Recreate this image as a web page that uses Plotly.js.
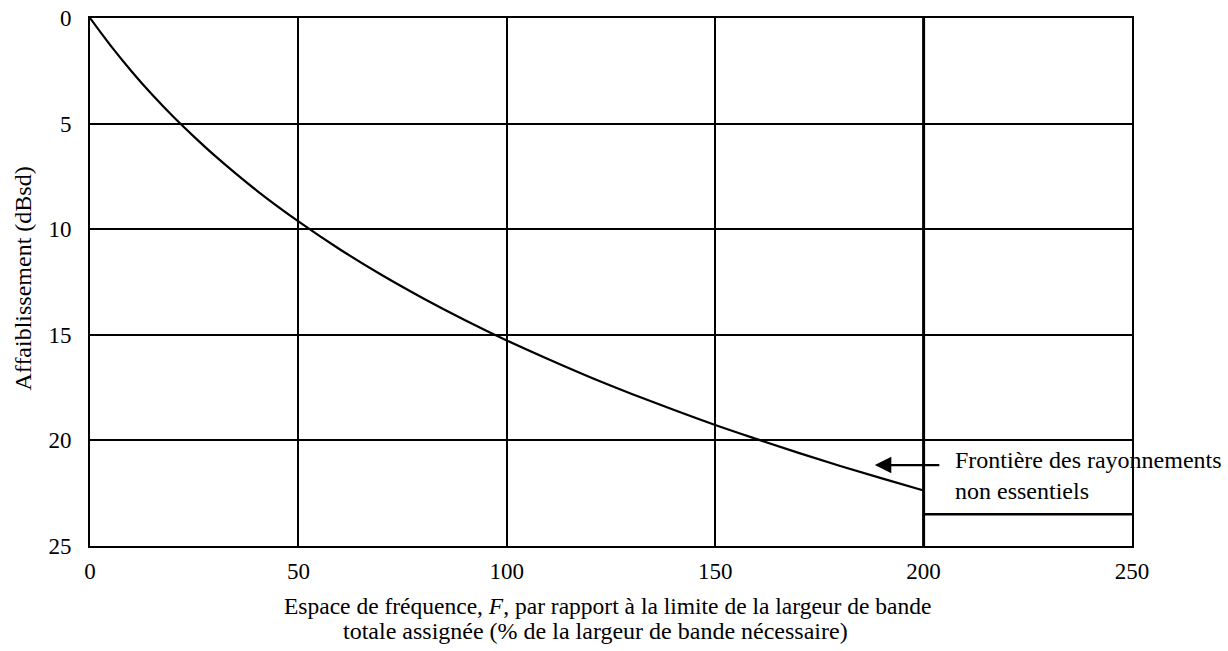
<!DOCTYPE html>
<html>
<head>
<meta charset="utf-8">
<script src="https://cdn.plot.ly/plotly-3.0.1.min.js"></script>
<style>html,body{margin:0;padding:0;background:#fff;}#chart{width:1228px;height:651px;}</style>
</head>
<body>
<div id="chart"></div>
<script>
// Curve (attenuation, dBsd, vs frequency spacing F, %)
const spacingF = [0, 5, 10, 15, 20, 25, 30, 40, 50, 60, 70, 80, 90, 100, 110, 120, 130, 140, 150, 160, 170, 180, 190, 200];
const attenuation = [0, 1.32, 2.53, 3.65, 4.68, 5.63, 6.53, 8.17, 9.63, 10.96, 12.17, 13.28, 14.31, 15.27, 16.16, 17.01, 17.80, 18.55, 19.27, 19.94, 20.59, 21.21, 21.80, 22.37];
// Spurious domain level segment
const spurX = [200, 250];
const spurY = [23.5, 23.5];
// Boundary line at F = 200 %
const boundaryX = [200, 200];
const boundaryY = [0, 25];

const xTicks = [0, 50, 100, 150, 200, 250];
const yTicks = [0, 5, 10, 15, 20, 25];

const xTitleLines = ['Espace de fréquence, <i>F</i>, par rapport à la limite de la largeur de bande',
                     'totale assignée (% de la largeur de bande nécessaire)'];
const yTitle = 'Affaiblissement (dBsd)';
const noteText = 'Frontière des rayonnements<br>non essentiels';

const FAM = 'Liberation Serif';

const traces = [
  {x: spacingF, y: attenuation, mode: 'lines', line: {color: '#000', width: 2.2, shape: 'spline'}, hoverinfo: 'skip'},
  {x: spurX, y: spurY, mode: 'lines', line: {color: '#000', width: 2.5}, hoverinfo: 'skip'},
  {x: boundaryX, y: boundaryY, mode: 'lines', line: {color: '#000', width: 3}, hoverinfo: 'skip'}
];

const layout = {
  width: 1228, height: 651,
  margin: {l: 90, r: 96, t: 18, b: 105},
  paper_bgcolor: '#fff', plot_bgcolor: '#fff',
  showlegend: false,
  xaxis: {
    range: [0, 250], tickvals: xTicks, ticktext: xTicks.map(String),
    showgrid: true, gridcolor: '#000', gridwidth: 2,
    showline: true, linecolor: '#000', linewidth: 2, mirror: true,
    zeroline: false, ticks: '', ticklabelstandoff: 3,
    tickfont: {family: FAM, size: 23, color: '#000'}
  },
  yaxis: {
    range: [25, 0], tickvals: yTicks, ticktext: yTicks.map(String),
    showgrid: true, gridcolor: '#000', gridwidth: 2,
    showline: true, linecolor: '#000', linewidth: 2, mirror: true,
    zeroline: false, ticks: '', ticklabelstandoff: 12,
    tickfont: {family: FAM, size: 23, color: '#000'}
  },
  annotations: [
    {x: 188.3, y: 21.17, xref: 'x', yref: 'y', text: '', showarrow: true,
     axref: 'pixel', ayref: 'pixel', ax: 66, ay: 0,
     arrowhead: 2, arrowsize: 1.5, arrowwidth: 2.2, arrowcolor: '#000'},
    {x: 207.1, y: 21.64, xref: 'x', yref: 'y', xanchor: 'left', yanchor: 'middle', align: 'left',
     text: noteText, showarrow: false,
     font: {family: FAM, size: 24, color: '#000'}},
    {x: 0.4971, y: -0.1136, xref: 'paper', yref: 'paper', xanchor: 'center', yanchor: 'middle',
     text: xTitleLines[0], showarrow: false, font: {family: FAM, size: 23.5, color: '#000'}},
    {x: 0.4856, y: -0.161, xref: 'paper', yref: 'paper', xanchor: 'center', yanchor: 'middle',
     text: xTitleLines[1], showarrow: false, font: {family: FAM, size: 24, color: '#000'}},
    {x: -0.0643, y: 0.5066, xref: 'paper', yref: 'paper', xanchor: 'center', yanchor: 'middle', textangle: -90,
     text: yTitle, showarrow: false, font: {family: FAM, size: 24, color: '#000'}}
  ]
};

Plotly.newPlot('chart', traces, layout, {displayModeBar: false, staticPlot: true});
</script>
</body>
</html>
